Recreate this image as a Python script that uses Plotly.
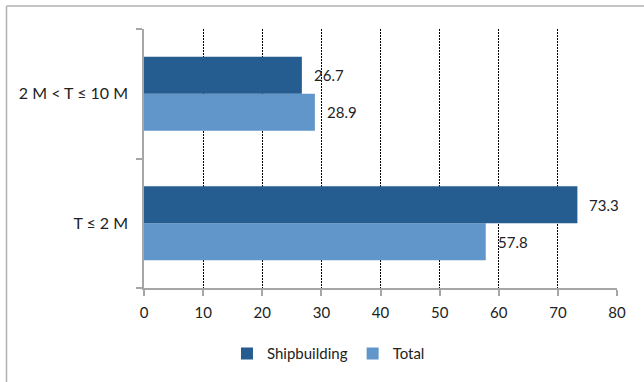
import plotly.graph_objects as go

categories = ["T ≤ 2 M", "2 M < T ≤ 10 M"]
shipbuilding = [73.3, 26.7]
total = [57.8, 28.9]
x_ticks = [0, 10, 20, 30, 40, 50, 60, 70, 80]

dark = "#265D91"
light = "#6096CA"
font_family = "Lato, 'Open Sans', sans-serif"
text_color = "#222222"

fig = go.Figure()
fig.add_trace(go.Bar(y=categories, x=total, orientation="h", name="Total",
                     marker=dict(color=light, line=dict(width=0))))
fig.add_trace(go.Bar(y=categories, x=shipbuilding, orientation="h", name="Shipbuilding",
                     marker=dict(color=dark, line=dict(width=0))))

bargap = 0.43
half = (1 - bargap) / 4
for i, cat in enumerate(categories):
    for val, off in ((total[i], -half), (shipbuilding[i], half)):
        fig.add_annotation(x=val, y=i + off, xref="x", yref="y", text=f"{val:.1f}",
                           showarrow=False, xanchor="left", yanchor="middle", xshift=10,
                           font=dict(size=15, color=text_color, family=font_family))

# outer chart border (left and top edges)
fig.add_shape(type="line", xref="paper", yref="paper", x0=-0.2907, x1=-0.2907, y0=-1, y1=1.0885,
              line=dict(color="#b0b0b0", width=1.5))
fig.add_shape(type="line", xref="paper", yref="paper", x0=-0.2907, x1=1.2, y0=1.0885, y1=1.0885,
              line=dict(color="#b0b0b0", width=1.5))

fig.update_layout(
    width=644, height=382,
    margin=dict(l=144, r=27, t=29, b=92),
    paper_bgcolor="white", plot_bgcolor="white",
    barmode="group", bargap=bargap, bargroupgap=0,
    font=dict(family=font_family, size=15, color=text_color),
    showlegend=True,
    legend=dict(orientation="h", traceorder="reversed", x=0.39, xanchor="center",
                y=-0.254, yanchor="middle", font=dict(size=15, color=text_color),
                itemwidth=30, tracegroupgap=0),
    xaxis=dict(range=[0, 80], tickvals=x_ticks, showgrid=True, gridcolor="black",
               griddash="2px,1px", gridwidth=1, zeroline=False,
               showline=True, linecolor="#a6a6a6", linewidth=1.5,
               ticks="outside", ticklen=6, tickcolor="#a6a6a6", tickwidth=1.5,
               ticklabelstandoff=4,
               tickfont=dict(size=15, color=text_color, family=font_family)),
    yaxis=dict(type="category", categoryorder="array", categoryarray=categories,
               showline=True, linecolor="#a6a6a6", linewidth=1.5,
               ticks="outside", ticklen=6, tickcolor="#a6a6a6", tickwidth=1.5,
               tickson="boundaries", showgrid=False, ticklabelstandoff=11,
               tickfont=dict(size=16, color=text_color, family=font_family)),
)

fig.write_html("out.html")
